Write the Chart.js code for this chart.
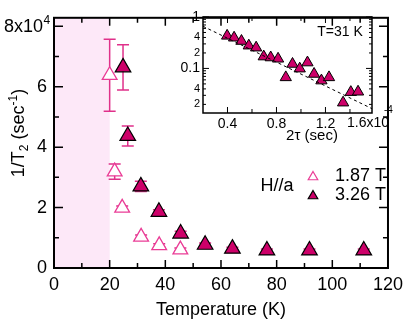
<!DOCTYPE html>
<html>
<head>
<meta charset="utf-8">
<script src="https://cdn.jsdelivr.net/npm/chart.js@4.4.0/dist/chart.umd.min.js"></script>
<style>
  html, body { margin: 0; padding: 0; background: #fff; }
  #wrap { position: relative; width: 409px; height: 325px; }
  #wrap canvas { position: absolute; left: 0; top: 0; }
</style>
</head>
<body>
<div id="wrap">
  <canvas id="mainChart" width="409" height="325"></canvas>
  <canvas id="insetChart" width="409" height="325"></canvas>
</div>
<script>
// main panel: 1/T2 (x10^4 sec^-1) vs temperature
const temps187 = [20.0, 21.8, 24.5, 31.3, 37.8, 45.4];
const rate187  = [6.38, 3.19, 1.99, 1.03, 0.75, 0.61];
const err187   = [1.19, 0.25, 0.06, 0.06, 0.05, 0.05];

const temps326 = [24.8, 26.5, 31.2, 37.7, 45.5, 54.3, 64.1, 76.5, 91.8, 111.3];
const rate326  = [6.64, 4.37, 2.70, 1.86, 1.14, 0.77, 0.64, 0.58, 0.58, 0.58];
const err326   = [0.75, 0.33, 0.17, 0.07, 0.08, 0.06, 0.05, 0.05, 0.05, 0.05];

const shadeRange = [0, 20];
const legendLabels = ['1.87 T', '3.26 T'];

// inset: M (a.u.) vs 2tau at T=31 K
const tau2 = [0.397, 0.454, 0.514, 0.574, 0.634, 0.696, 0.753, 0.813, 0.876, 0.931,
              0.990, 1.053, 1.107, 1.167, 1.229, 1.344, 1.407, 1.466];
const magn = [0.43, 0.395, 0.341, 0.277, 0.253, 0.170, 0.163, 0.154, 0.067, 0.122,
              0.099, 0.130, 0.078, 0.058, 0.067, 0.0216, 0.0346, 0.0352];
const fitTau = [0.2, 1.58];
const fitM   = [0.66, 0.0165];

const FONT = "'Liberation Sans', Arial, Helvetica, sans-serif";
const OPEN_PINK = '#ea3c96';
const BAR_PINK = '#e0308a';
const FILL_MAG = '#cd0069';
const SHADE = '#fde8f8';

Chart.defaults.font.family = FONT;
Chart.defaults.color = '#000';

function toPts(xs, ys) {
  return xs.map((x, i) => ({ x: x, y: ys[i] }));
}

function triangle(ctx, x, y, r) {
  const s = Math.sin(Math.PI / 3) * r;
  ctx.beginPath();
  ctx.moveTo(x, y - r);
  ctx.lineTo(x + s, y + r / 2);
  ctx.lineTo(x - s, y + r / 2);
  ctx.closePath();
}

const mainDecor = {
  id: 'mainDecor',
  beforeDatasetsDraw(chart) {
    const { ctx, chartArea: a, scales: { x, y } } = chart;
    ctx.save();
    ctx.fillStyle = SHADE;
    const x0 = x.getPixelForValue(shadeRange[0]);
    const x1 = x.getPixelForValue(shadeRange[1]);
    ctx.fillRect(x0, a.top, x1 - x0, a.bottom - a.top);

    // error bars
    ctx.strokeStyle = BAR_PINK;
    ctx.lineWidth = 1.5;
    [[temps187, rate187, err187], [temps326, rate326, err326]].forEach(([tx, ry, ey]) => {
      tx.forEach((t, i) => {
        const px = x.getPixelForValue(t);
        const top = y.getPixelForValue(ry[i] + ey[i]);
        const bot = y.getPixelForValue(ry[i] - ey[i]);
        ctx.beginPath();
        ctx.moveTo(px, top); ctx.lineTo(px, bot);
        ctx.moveTo(px - 6, top); ctx.lineTo(px + 6, top);
        ctx.moveTo(px - 6, bot); ctx.lineTo(px + 6, bot);
        ctx.stroke();
      });
    });
    ctx.restore();
  },
  afterDraw(chart) {
    const { ctx, chartArea: a, scales: { x, y } } = chart;
    ctx.save();
    ctx.strokeStyle = '#000';
    ctx.lineWidth = 2;
    ctx.strokeRect(a.left, a.top, a.right - a.left, a.bottom - a.top);

    // inward ticks on all four sides
    ctx.lineWidth = 1.5;
    ctx.beginPath();
    for (let t = 10; t < 120; t += 10) {
      const len = t % 20 === 0 ? 8 : 5;
      const px = x.getPixelForValue(t);
      ctx.moveTo(px, a.bottom); ctx.lineTo(px, a.bottom - len);
      ctx.moveTo(px, a.top); ctx.lineTo(px, a.top + len);
    }
    for (let v = 1; v <= 8; v += 1) {
      const len = v % 2 === 0 ? 9 : 5;
      const py = y.getPixelForValue(v);
      ctx.moveTo(a.left, py); ctx.lineTo(a.left + len, py);
      ctx.moveTo(a.right, py); ctx.lineTo(a.right - len, py);
    }
    ctx.stroke();

    // top y label 8x10^4
    ctx.fillStyle = '#000';
    ctx.textBaseline = 'middle';
    ctx.textAlign = 'right';
    const py8 = y.getPixelForValue(8);
    ctx.font = '18px ' + FONT;
    ctx.fillText('8x10', 43, py8 + 1);
    ctx.textAlign = 'left';
    ctx.font = '12px ' + FONT;
    ctx.fillText('4', 43.5, py8 - 6);

    // y axis title 1/T2 (sec^-1)
    ctx.save();
    ctx.translate(18, 133);
    ctx.rotate(-Math.PI / 2);
    ctx.textBaseline = 'alphabetic';
    const parts = [
      ['1/T', 18, 0], ['2', 12, 4], [' (sec', 18, 0], ['-1', 12, -7], [')', 18, 0]
    ];
    let total = 0;
    parts.forEach(p => { ctx.font = p[1] + 'px ' + FONT; total += ctx.measureText(p[0]).width; });
    let cx = -total / 2;
    parts.forEach(p => {
      ctx.font = p[1] + 'px ' + FONT;
      ctx.fillText(p[0], cx, 6 + p[2]);
      cx += ctx.measureText(p[0]).width;
    });
    ctx.restore();

    // legend
    ctx.font = '18px ' + FONT;
    ctx.textAlign = 'center';
    ctx.textBaseline = 'middle';
    ctx.fillText('H//a', 277, 186);
    ctx.textAlign = 'left';
    ctx.fillText(legendLabels[0], 335, 176);
    ctx.fillText(legendLabels[1], 335, 195);
    ctx.lineWidth = 1.2;
    triangle(ctx, 313, 177, 5.5);
    ctx.fillStyle = '#fff'; ctx.fill();
    ctx.strokeStyle = OPEN_PINK; ctx.stroke();
    triangle(ctx, 313, 196, 5.5);
    ctx.fillStyle = FILL_MAG; ctx.fill();
    ctx.strokeStyle = '#000'; ctx.stroke();
    ctx.restore();
  }
};

new Chart(document.getElementById('mainChart'), {
  type: 'scatter',
  data: {
    datasets: [
      {
        label: legendLabels[0],
        data: toPts(temps187, rate187),
        pointStyle: 'triangle',
        pointRadius: 8.5,
        backgroundColor: '#fff',
        borderColor: OPEN_PINK,
        borderWidth: 1.3
      },
      {
        label: legendLabels[1],
        data: toPts(temps326, rate326),
        pointStyle: 'triangle',
        pointRadius: 9,
        backgroundColor: FILL_MAG,
        borderColor: '#000',
        borderWidth: 1.2
      }
    ]
  },
  options: {
    responsive: false,
    animation: false,
    events: [],
    layout: { padding: { top: 4, right: 16, left: 0, bottom: 0 } },
    plugins: { legend: { display: false }, tooltip: { enabled: false } },
    scales: {
      x: {
        type: 'linear',
        min: 0, max: 120,
        grid: { display: false, drawTicks: false },
        border: { display: false },
        ticks: { stepSize: 20, includeBounds: false, maxRotation: 0, padding: 6,
                 font: { size: 18 }, color: '#000' },
        title: { display: true, text: 'Temperature (K)', font: { size: 18 }, color: '#000',
                 padding: { top: 0, bottom: 4 } },
        afterFit: s => { s.height = 57; }
      },
      y: {
        type: 'linear',
        min: 0, max: 8.28,
        grid: { display: false, drawTicks: false },
        border: { display: false },
        ticks: { stepSize: 2, includeBounds: false, padding: 7, font: { size: 18 }, color: '#000',
                 callback: v => (v === 8 ? '' : String(v)) },
        afterFit: s => { s.width = 54; }
      }
    }
  },
  plugins: [mainDecor]
});

const insetDecor = {
  id: 'insetDecor',
  afterDraw(chart) {
    const { ctx, chartArea: a, scales: { x, y } } = chart;
    ctx.save();
    ctx.strokeStyle = '#000';
    ctx.lineWidth = 1.5;
    ctx.strokeRect(a.left, a.top, a.right - a.left, a.bottom - a.top);

    ctx.lineWidth = 1;
    ctx.beginPath();
    for (let t = 0.4; t < 1.58; t += 0.2) {
      const px = x.getPixelForValue(t);
      const len = Math.abs((t * 10) % 4) < 0.01 || Math.abs((t * 10) % 4 - 4) < 0.01 ? 6 : 4;
      ctx.moveTo(px, a.bottom); ctx.lineTo(px, a.bottom - len);
      ctx.moveTo(px, a.top); ctx.lineTo(px, a.top + len);
    }
    y.ticks.forEach(tk => {
      const v = tk.value;
      const e = Math.floor(Math.log10(v) + 1e-9);
      const sig = v / Math.pow(10, e);
      if (Math.abs(sig - Math.round(sig)) > 1e-6) return;
      const len = Math.round(sig) === 1 ? 6 : 3;
      const py = y.getPixelForValue(v);
      ctx.moveTo(a.left, py); ctx.lineTo(a.left + len, py);
      ctx.moveTo(a.right, py); ctx.lineTo(a.right - len, py);
    });
    ctx.stroke();

    ctx.fillStyle = '#000';
    ctx.textBaseline = 'middle';
    ctx.textAlign = 'left';
    ctx.font = '14px ' + FONT;
    ctx.fillText('1.6x10', 347, 123);
    ctx.font = '10px ' + FONT;
    ctx.fillText('-4', 384, 110);

    ctx.font = '15px ' + FONT;
    ctx.textAlign = 'center';
    ctx.fillText('2\u03c4 (sec)', 312, 136);

    ctx.font = '14px ' + FONT;
    ctx.fillText('T=31 K', 340, 32);
    ctx.restore();
  }
};

new Chart(document.getElementById('insetChart'), {
  type: 'scatter',
  data: {
    datasets: [
      {
        label: 'fit',
        data: toPts(fitTau, fitM),
        showLine: true,
        pointRadius: 0,
        borderColor: '#000',
        borderWidth: 1,
        borderDash: [3, 3]
      },
      {
        label: 'M',
        data: toPts(tau2, magn),
        pointStyle: 'triangle',
        pointRadius: 6.5,
        backgroundColor: FILL_MAG,
        borderColor: '#000',
        borderWidth: 1
      }
    ]
  },
  options: {
    responsive: false,
    animation: false,
    events: [],
    layout: { padding: { top: 17, right: 37, left: 0, bottom: 0 } },
    plugins: { legend: { display: false }, tooltip: { enabled: false } },
    scales: {
      x: {
        type: 'linear',
        min: 0.2, max: 1.58,
        grid: { display: false, drawTicks: false },
        border: { display: false },
        ticks: { stepSize: 0.4, includeBounds: false, maxRotation: 0, padding: 3,
                 font: { size: 14 }, color: '#000',
                 callback: v => (Math.abs(v - 1.6) < 0.01 ? '' : v.toFixed(1)) },
        afterFit: s => { s.height = 212; }
      },
      y: {
        type: 'logarithmic',
        min: 0.0136, max: 1,
        grid: { display: false, drawTicks: false },
        border: { display: false },
        ticks: {
          autoSkip: false, padding: 3, color: '#000',
          font: ctx => ({ size: (ctx.tick && (Math.abs(ctx.tick.value - 1) < 1e-6 || Math.abs(ctx.tick.value - 0.1) < 1e-6)) ? 14 : 11 }),
          callback: v => {
            if (Math.abs(v - 1) < 1e-6) return '1';
            if (Math.abs(v - 0.1) < 1e-6) return '0.1';
            if (Math.abs(v - 0.4) < 1e-6 || Math.abs(v - 0.04) < 1e-7) return '4';
            if (Math.abs(v - 0.2) < 1e-6 || Math.abs(v - 0.02) < 1e-7) return '2';
            return '';
          }
        },
        afterFit: s => { s.width = 203; }
      }
    }
  },
  plugins: [insetDecor]
});
</script>
</body>
</html>
